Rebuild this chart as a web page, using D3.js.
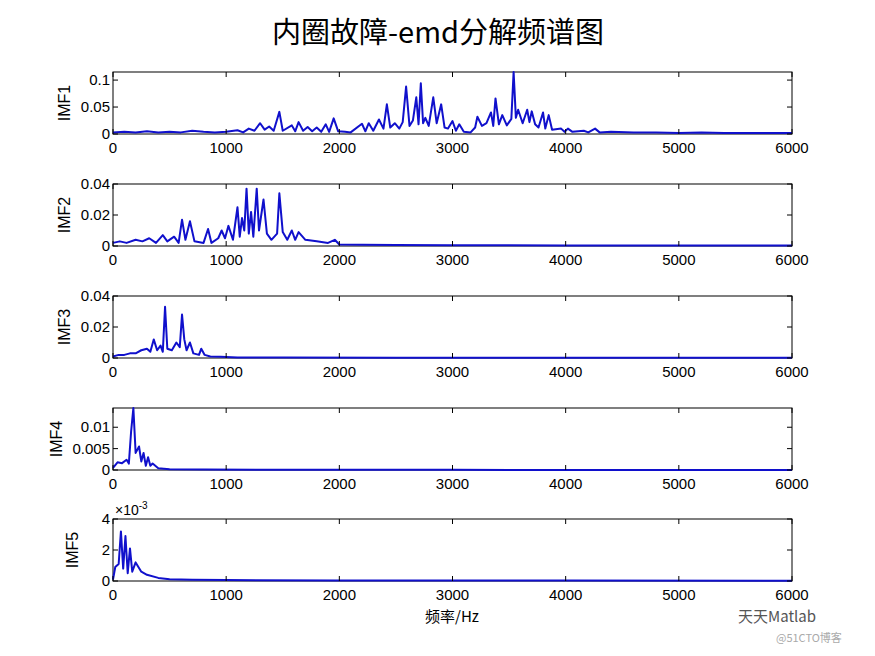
<!DOCTYPE html>
<html><head><meta charset="utf-8">
<script src="https://cdn.jsdelivr.net/npm/d3@7"></script>
<style>body{margin:0;background:#fff}text{font-family:Arial,"Liberation Sans",sans-serif}</style>
</head><body><svg id="c" width="875" height="656"></svg>
<script>
// 各IMF频谱 [频率Hz, 幅值]
const imf1 = [[0,0.003],[100,0.004],[200,0.003],[300,0.005],[400,0.003],[500,0.004],[600,0.003],[700,0.006],[800,0.004],[900,0.003],[1000,0.004],[1100,0.007],[1150,0.003],[1200,0.01],[1250,0.006],[1300,0.02],[1340,0.008],[1380,0.014],[1420,0.006],[1470,0.041],[1500,0.006],[1580,0.016],[1610,0.005],[1640,0.022],[1680,0.006],[1720,0.013],[1760,0.005],[1800,0.012],[1840,0.004],[1880,0.018],[1910,0.004],[1950,0.029],[1990,0.005],[2050,0.004],[2100,0.003],[2200,0.019],[2230,0.005],[2260,0.02],[2300,0.006],[2350,0.027],[2390,0.01],[2420,0.055],[2450,0.012],[2490,0.02],[2530,0.01],[2560,0.022],[2590,0.088],[2620,0.015],[2650,0.025],[2680,0.068],[2700,0.018],[2720,0.094],[2740,0.02],[2760,0.03],[2790,0.015],[2830,0.068],[2860,0.02],[2900,0.055],[2930,0.012],[2960,0.01],[3000,0.024],[3030,0.006],[3060,0.018],[3100,0.004],[3160,0.003],[3200,0.012],[3220,0.032],[3260,0.015],[3300,0.02],[3340,0.04],[3360,0.015],[3380,0.066],[3410,0.018],[3440,0.035],[3480,0.016],[3520,0.028],[3540,0.115],[3560,0.03],[3580,0.045],[3620,0.02],[3660,0.045],[3680,0.022],[3700,0.042],[3730,0.018],[3760,0.012],[3800,0.04],[3820,0.01],[3850,0.035],[3880,0.008],[3960,0.01],[3990,0.004],[4020,0.01],[4060,0.004],[4160,0.006],[4200,0.003],[4260,0.01],[4300,0.003],[4400,0.004],[4600,0.003],[4800,0.003],[5000,0.002],[5200,0.003],[5400,0.002],[5700,0.002],[6000,0.002]];
const imf2 = [[0,0.002],[60,0.003],[120,0.002],[200,0.004],[260,0.003],[320,0.005],[380,0.002],[440,0.007],[480,0.003],[540,0.006],[580,0.002],[610,0.017],[640,0.004],[680,0.016],[720,0.003],[800,0.002],[840,0.011],[870,0.002],[930,0.005],[960,0.01],[990,0.005],[1020,0.013],[1060,0.004],[1100,0.025],[1120,0.006],[1140,0.018],[1160,0.01],[1180,0.037],[1200,0.008],[1220,0.022],[1240,0.006],[1270,0.037],[1290,0.01],[1330,0.03],[1360,0.008],[1400,0.004],[1450,0.008],[1470,0.034],[1500,0.009],[1540,0.004],[1580,0.01],[1610,0.004],[1640,0.009],[1700,0.004],[1800,0.003],[1900,0.002],[1960,0.004],[2000,0.001],[2200,0.0008],[2500,0.0006],[3000,0.0005],[4000,0.0004],[5000,0.0003],[6000,0.0003]];
const imf3 = [[0,0.001],[50,0.002],[100,0.002],[150,0.003],[200,0.003],[250,0.005],[300,0.006],[330,0.004],[360,0.012],[390,0.005],[420,0.008],[440,0.004],[460,0.033],[480,0.006],[520,0.005],[560,0.01],[590,0.007],[610,0.028],[630,0.012],[650,0.005],[680,0.01],[710,0.003],[760,0.002],[780,0.006],[810,0.002],[860,0.001],[950,0.0008],[1100,0.0004],[1500,0.0003],[2500,0.0002],[4000,0.0001],[6000,0.0001]];
const imf4 = [[0,0.0005],[40,0.0018],[80,0.0016],[120,0.0024],[140,0.0015],[160,0.009],[180,0.0145],[200,0.004],[230,0.0055],[250,0.002],[270,0.004],[290,0.001],[310,0.003],[330,0.001],[350,0.0015],[400,0.0004],[500,0.0002],[800,0.0001],[1500,0.00005],[3000,0.00003],[6000,0.00002]];
const imf5 = [[0,0.0001],[20,0.0009],[50,0.0011],[70,0.0032],[90,0.0008],[110,0.0029],[130,0.0005],[150,0.0021],[170,0.0006],[200,0.0012],[250,0.0006],[300,0.0004],[400,0.0002],[500,0.00012],[700,0.00008],[1000,0.00006],[2000,0.00004],[4000,0.00003],[6000,0.00002]];

const panels = [
  {name:"IMF1", data:imf1, max:0.115, ticks:[0,0.05,0.1], fmt:d=>d===0?"0":String(d), top:72},
  {name:"IMF2", data:imf2, max:0.04, ticks:[0,0.02,0.04], fmt:d=>d===0?"0":String(d), top:184},
  {name:"IMF3", data:imf3, max:0.04, ticks:[0,0.02,0.04], fmt:d=>d===0?"0":String(d), top:296},
  {name:"IMF4", data:imf4, max:0.0145, ticks:[0,0.005,0.01], fmt:d=>d===0?"0":String(d), top:408},
  {name:"IMF5", data:imf5, max:0.004, ticks:[0,0.002,0.004], fmt:d=>String(Math.round(d*1000)), top:519}
];
const xTicks = [0,1000,2000,3000,4000,5000,6000];
const left = 113, right = 792, ph = 62;
const svg = d3.select("#c");
const x = d3.scaleLinear().domain([0,6000]).range([left,right]);

svg.append("text").attr("x",438).attr("y",43).attr("text-anchor","middle")
  .attr("font-size",29).style("font-family","'Noto Sans CJK SC',sans-serif").text("内圈故障-emd分解频谱图");

panels.forEach(p => {
  const y = d3.scaleLinear().domain([0,p.max]).range([p.top+ph,p.top]);
  const g = svg.append("g");
  g.append("rect").attr("x",left).attr("y",p.top).attr("width",right-left).attr("height",ph)
    .attr("fill","none").attr("stroke","#000").attr("stroke-width",1);
  const line = d3.line().x(d=>x(d[0])).y(d=>y(d[1]));
  g.append("path").datum(p.data).attr("d",line).attr("fill","none")
    .attr("stroke","#1010cc").attr("stroke-width",2).attr("stroke-linejoin","round");
  xTicks.forEach(t => {
    g.append("line").attr("x1",x(t)).attr("x2",x(t)).attr("y1",p.top+ph).attr("y2",p.top+ph-5).attr("stroke","#000");
    g.append("line").attr("x1",x(t)).attr("x2",x(t)).attr("y1",p.top).attr("y2",p.top+5).attr("stroke","#000");
    g.append("text").attr("x",x(t)).attr("y",p.top+ph+19).attr("text-anchor","middle").attr("font-size",15).text(t);
  });
  p.ticks.forEach(t => {
    g.append("line").attr("x1",left).attr("x2",left+5).attr("y1",y(t)).attr("y2",y(t)).attr("stroke","#000");
    g.append("line").attr("x1",right).attr("x2",right-5).attr("y1",y(t)).attr("y2",y(t)).attr("stroke","#000");
    g.append("text").attr("x",left-3).attr("y",y(t)+5).attr("text-anchor","end").attr("font-size",15).text(p.fmt(t));
  });
  const lx = p.name==="IMF4"?62:(p.name==="IMF5"?78:70);
  g.append("text").attr("transform",`translate(${lx},${p.top+ph/2}) rotate(-90)`)
    .attr("text-anchor","middle").attr("font-size",16).text(p.name);
  if (p.name==="IMF5") {
    const e = g.append("text").attr("x",left+2).attr("y",p.top-4).attr("font-size",14);
    e.append("tspan").text("×10");
    e.append("tspan").attr("dy",-6).attr("font-size",10).text("-3");
  }
});

svg.append("text").attr("x",452).attr("y",622).attr("text-anchor","middle").attr("font-size",15)
  .style("font-family","'Noto Sans CJK SC',sans-serif").text("频率/Hz");
svg.append("text").attr("x",738).attr("y",622).attr("font-size",15).attr("fill","#555")
  .style("font-family","'Noto Sans CJK SC',sans-serif").text("天天Matlab");
svg.append("text").attr("x",776).attr("y",642).attr("font-size",11).attr("fill","#aaa")
  .style("font-family","'Noto Sans CJK SC',sans-serif").text("@51CTO博客");
</script></body></html>
